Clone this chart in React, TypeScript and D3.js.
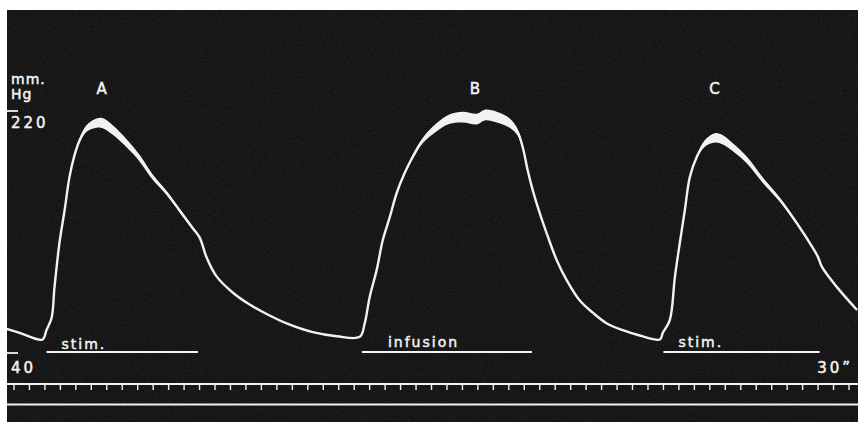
import React from "react";
import * as d3 from "d3";

const W = 858;
const H = 422;

// time (s) and mean pressure (mm Hg)
const time = [
  -0.49, 0.36, 1.84, 2.1, 2.43, 2.62, 2.94, 3.27, 3.59, 3.91, 4.24, 4.69, 5.34, 5.73,
  6.37, 7.28, 8.12, 8.96, 9.87, 10.71, 11.55, 12.0, 12.46, 13.1, 14.14, 15.24, 16.34,
  17.63, 19.32, 20.87, 22.36,
  22.68, 23.01, 23.46, 23.85, 24.3, 24.75, 25.27, 25.79, 26.43, 27.34, 28.18, 29.02,
  29.93, 30.44, 31.22, 32.06, 32.58, 32.9, 33.22, 33.55, 34.0, 34.45, 35.1, 35.75,
  36.59, 37.43, 38.34, 39.37, 40.47, 41.77,
  41.96, 42.41, 42.74, 43.06, 43.38, 43.71, 44.16, 44.68, 45.33, 45.84, 46.49, 47.4,
  48.43, 49.53, 50.63, 51.67, 51.99, 52.25, 53.22, 54.52,
];
const pressure = [
  58, 55, 50, 57, 66, 89, 122, 146, 171, 187, 198, 207, 211, 211,
  206, 196, 185, 171, 159, 146, 133, 126, 111, 97, 85, 76, 69,
  62, 55.5, 52.5, 52,
  62, 82, 102, 124, 141, 159, 174, 186, 198, 208, 214, 215.5,
  214, 217, 215.5, 211, 204, 193, 176, 161, 144, 129, 109, 94,
  79, 70, 62, 57, 53, 50,
  55, 64.5, 96.5, 122, 146, 171, 186, 196, 200, 198.5, 193, 183.5,
  168.5, 154, 136.5, 118, 111.5, 104, 89, 72,
];
// width of the pulse band (mm Hg) where the trace thickens near the peaks
const pulse = [
  0, 0, 0, 0, 0, 0, 0, 0, 0, 1.5, 3, 5, 7, 7.5,
  7, 6, 5, 4, 3, 2.5, 2, 1.5, 0, 0, 0, 0, 0,
  0, 0, 0, 0,
  0, 0, 0, 0, 0, 1, 2, 3, 4, 6, 7, 8,
  8, 8, 8, 7, 5, 3, 1, 0, 0, 0, 0, 0,
  0, 0, 0, 0, 0, 0,
  0, 0, 0, 0, 0, 0, 2, 5, 7, 7, 6, 5,
  4, 3, 2, 1, 0, 0, 0, 0,
];

const peakLabels = ["A", "B", "C"];
const peakTimes = [5.66, 29.8, 45.3];

const markLabels = ["stim.", "infusion", "stim."];
const markStart = [2.1, 22.5, 42.0];
const markEnd = [11.9, 33.5, 52.1];

const yTicks = [220, 40];
const timeTicks = d3.range(0, 56);
const timeLabel = "30\u201D";

const FONT = "'DejaVu Sans', sans-serif";
const INK = "#f2f2f2";

export default function App() {
  const x = d3.scaleLinear().domain([0, 54]).range([14, 849]);
  const y = d3.scaleLinear().domain([40, 220]).range([353, 111]);

  const idx = d3.range(time.length);
  const curve = d3.curveCatmullRom.alpha(0.5);
  const line = d3
    .line<number>()
    .x((i) => x(time[i]))
    .y((i) => y(pressure[i]))
    .curve(curve);
  const band = d3
    .area<number>()
    .x((i) => x(time[i]))
    .y0((i) => y(pressure[i] - pulse[i] / 2))
    .y1((i) => y(pressure[i] + pulse[i] / 2))
    .curve(curve);

  const panelX = 7;
  const panelY = 10;
  const axisY = 384;
  const txt = { fill: INK, fontFamily: FONT, stroke: INK, strokeWidth: 0.5 };

  return (
    <svg
      width={W}
      height={H}
      style={{ position: "absolute", left: 0, top: 0, background: "#fff" }}
    >
      <defs>
        <clipPath id="panel">
          <rect x={panelX} y={panelY} width={W - panelX} height={H - panelY} />
        </clipPath>
        <filter id="grain" x="0" y="0" width="100%" height="100%">
          <feTurbulence type="fractalNoise" baseFrequency="0.85" numOctaves="2" seed="3" />
          <feColorMatrix
            type="matrix"
            values="0 0 0 0 1  0 0 0 0 1  0 0 0 0 1  0 0 0 -1.6 0.95"
          />
        </filter>
      </defs>

      <rect x={panelX} y={panelY} width={W - panelX} height={H - panelY} fill="#141414" />
      <rect
        x={panelX}
        y={panelY}
        width={W - panelX}
        height={H - panelY}
        filter="url(#grain)"
        opacity={0.09}
      />

      <g clipPath="url(#panel)">
        <path d={band(idx) ?? ""} fill={INK} />
        <path
          d={line(idx) ?? ""}
          fill="none"
          stroke={INK}
          strokeWidth={2.4}
          strokeLinejoin="round"
        />

        {/* pressure scale */}
        {yTicks.map((v) => (
          <line key={v} x1={panelX} x2={18} y1={y(v)} y2={y(v)} stroke={INK} strokeWidth={1.8} />
        ))}
        <text x={11} y={84} {...txt} fontSize={14} letterSpacing={1}>
          mm.
        </text>
        <text x={11} y={99} {...txt} fontSize={14} letterSpacing={1}>
          Hg
        </text>
        {yTicks.map((v, i) => (
          <text
            key={"l" + v}
            x={11}
            y={y(v) + (i === 0 ? 17 : 20)}
            {...txt}
            fontSize={15}
            letterSpacing={3}
          >
            {v}
          </text>
        ))}

        {/* peak letters */}
        {peakLabels.map((l, i) => (
          <text key={l} x={x(peakTimes[i])} y={94} textAnchor="middle" {...txt} fontSize={15}>
            {l}
          </text>
        ))}

        {/* signal markers */}
        {markLabels.map((l, i) => (
          <g key={i}>
            <line
              x1={x(markStart[i])}
              x2={x(markEnd[i])}
              y1={352}
              y2={352}
              stroke={INK}
              strokeWidth={1.8}
            />
            <text
              x={x(markStart[i]) + (i === 1 ? 26 : 15)}
              y={i === 0 ? 349 : 347}
              {...txt}
              fontSize={14}
              letterSpacing={2}
            >
              {l}
            </text>
          </g>
        ))}

        {/* time marker */}
        <line x1={panelX} x2={W} y1={axisY} y2={axisY} stroke={INK} strokeWidth={1.8} />
        {timeTicks.map((t) => (
          <line
            key={t}
            x1={x(t)}
            x2={x(t)}
            y1={axisY}
            y2={axisY + 6}
            stroke={INK}
            strokeWidth={1.4}
          />
        ))}
        <text x={853} y={373} textAnchor="end" {...txt} fontSize={15} letterSpacing={3}>
          {timeLabel}
        </text>
        <line x1={panelX} x2={W} y1={404.5} y2={404.5} stroke={INK} strokeWidth={1.8} />
      </g>
    </svg>
  );
}
